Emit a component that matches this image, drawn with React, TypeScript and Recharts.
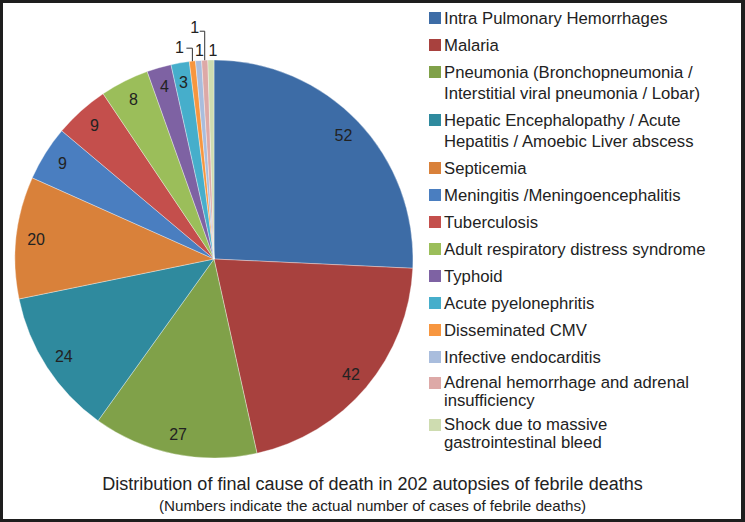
import { PieChart, Pie, Cell, Legend } from 'recharts';

const causes = [
  'Intra Pulmonary Hemorrhages',
  'Malaria',
  'Pneumonia (Bronchopneumonia /\nInterstitial viral pneumonia / Lobar)',
  'Hepatic Encephalopathy / Acute\nHepatitis / Amoebic Liver abscess',
  'Septicemia',
  'Meningitis /Meningoencephalitis',
  'Tuberculosis',
  'Adult respiratory distress syndrome',
  'Typhoid',
  'Acute pyelonephritis',
  'Disseminated CMV',
  'Infective endocarditis',
  'Adrenal hemorrhage and adrenal\ninsufficiency',
  'Shock due to massive\ngastrointestinal bleed',
];

const deaths = [52, 42, 27, 24, 20, 9, 9, 8, 4, 3, 1, 1, 1, 1];

const colors = [
  '#3d6ca6',
  '#a8413e',
  '#80a149',
  '#2f8a9e',
  '#d9813a',
  '#4a7ec0',
  '#c44f4c',
  '#9bbe5a',
  '#7e62a3',
  '#46aecb',
  '#f7963f',
  '#a9bddd',
  '#dda9a7',
  '#cedcb0',
];

const title = 'Distribution of final cause of death in 202 autopsies of febrile deaths';
const subtitle = '(Numbers indicate the actual number of cases of febrile deaths)';

const data = causes.map((name, i) => ({ name, value: deaths[i] }));

const RAD = Math.PI / 180;
const FONT = '"Liberation Sans", Arial, Helvetica, sans-serif';

function SliceLabel(props: any) {
  const { cx, cy, midAngle, outerRadius, value, index } = props;
  const cos = Math.cos(-midAngle * RAD);
  const sin = Math.sin(-midAngle * RAD);
  const textProps = {
    fontSize: 16,
    fontFamily: FONT,
    fill: '#222',
    textAnchor: 'middle' as const,
    dominantBaseline: 'central' as const,
  };

  if (value > 1) {
    const r = outerRadius - 20;
    return (
      <text x={cx + r * cos} y={cy + r * sin} {...textProps}>
        {value}
      </text>
    );
  }

  // the four single-case slices sit at the top, labelled outside
  const px = cx + outerRadius * cos;
  const py = cy + outerRadius * sin;
  if (index === 10) {
    return (
      <g>
        <polyline
          points={`${px},${py} ${px},${py - 13} ${px - 6},${py - 13}`}
          fill="none"
          stroke="#333"
          strokeWidth={1}
        />
        <text x={px - 13} y={py - 14} {...textProps}>{value}</text>
      </g>
    );
  }
  if (index === 12) {
    return (
      <g>
        <polyline
          points={`${px},${py} ${px},${py - 29} ${px - 5},${py - 29}`}
          fill="none"
          stroke="#333"
          strokeWidth={1}
        />
        <text x={px - 10} y={py - 33} {...textProps}>{value}</text>
      </g>
    );
  }
  return (
    <text x={px + (index === 13 ? 2 : 1)} y={py - 10} {...textProps}>
      {value}
    </text>
  );
}

function CauseLegend() {
  return (
    <div style={{ display: 'flex', flexDirection: 'column', gap: 6, fontFamily: FONT, color: '#222' }}>
      {causes.map((name, i) => {
        const lh = i >= 12 ? 18 : 21;
        return (
          <div key={name} style={{ display: 'flex', alignItems: 'flex-start', fontSize: 16.7, lineHeight: `${lh}px` }}>
            <span
              style={{
                width: 12,
                height: 12,
                marginTop: (lh - 12) / 2,
                marginRight: 3,
                background: colors[i],
                flexShrink: 0,
              }}
            />
            <span style={{ whiteSpace: 'pre-line' }}>{name}</span>
          </div>
        );
      })}
    </div>
  );
}

export default function App() {
  return (
    <div
      style={{
        position: 'absolute',
        left: 0,
        top: 0,
        width: 745,
        height: 522,
        background: '#fff',
        overflow: 'hidden',
      }}
    >
      <PieChart width={745} height={522} margin={{ top: 0, right: 0, bottom: 0, left: 0 }}>
        <Pie
          data={data}
          dataKey="value"
          nameKey="name"
          cx={214}
          cy={259}
          outerRadius={199}
          startAngle={90}
          endAngle={-270}
          stroke="rgba(255,255,255,0.35)"
          strokeWidth={1}
          label={SliceLabel}
          labelLine={false}
          isAnimationActive={false}
        >
          {data.map((d, i) => (
            <Cell key={d.name} fill={colors[i]} />
          ))}
        </Pie>
        <Legend
          layout="vertical"
          verticalAlign="top"
          align="right"
          content={() => <CauseLegend />}
          wrapperStyle={{ left: 429, top: 7.5, width: 312 }}
        />
      </PieChart>
      <div
        style={{
          position: 'absolute',
          left: 0,
          width: 745,
          top: 473,
          textAlign: 'center',
          fontFamily: FONT,
          color: '#222',
        }}
      >
        <div style={{ fontSize: 18, lineHeight: '22px' }}>{title}</div>
        <div style={{ fontSize: 15.2, lineHeight: '21px' }}>{subtitle}</div>
      </div>
      <div
        style={{
          position: 'absolute',
          inset: 0,
          borderStyle: 'solid',
          borderColor: '#1e1e1e',
          borderWidth: '3px 4px 3px 3px',
          pointerEvents: 'none',
        }}
      />
    </div>
  );
}
